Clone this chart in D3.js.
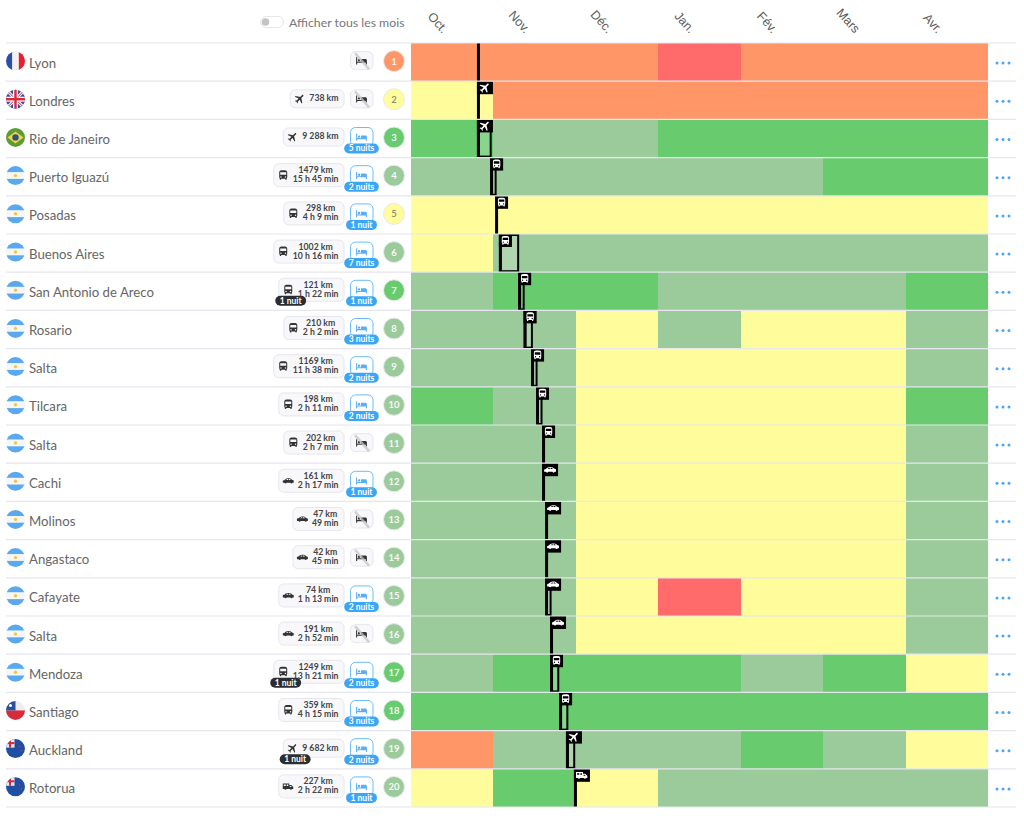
<!DOCTYPE html>
<html lang="fr">
<head>
<meta charset="UTF-8">
<title>Itinéraire</title>
<script src="https://d3js.org/d3.v7.min.js"></script>
<style>
    html, body { margin: 0; padding: 0; background: #fff; }
    svg { display: block; font-family: Lato, "Open Sans", sans-serif; }
    .axis text { font-size: 12.5px; fill: #5c5c5c; }
</style>
</head>
<body>
<svg id="chart" width="1024" height="838"></svg>
<script>
// --- data ---
var cities = ["Lyon", "Londres", "Rio de Janeiro", "Puerto Iguazú", "Posadas", "Buenos Aires", "San Antonio de Areco", "Rosario", "Salta", "Tilcara", "Salta", "Cachi", "Molinos", "Angastaco", "Cafayate", "Salta", "Mendoza", "Santiago", "Auckland", "Rotorua"];
var countries = ["fr", "uk", "br", "ar", "ar", "ar", "ar", "ar", "ar", "ar", "ar", "ar", "ar", "ar", "ar", "ar", "ar", "cl", "nz", "nz"];
var months = ["Oct.", "Nov.", "Déc.", "Jan.", "Fév.", "Mars", "Avr."];

// O orange, Y yellow, L light green, G green, R red
var monthRatings = [
    "OOOROOO",
    "YOOOOOO",
    "GLLGGGG",
    "LLLLLGG",
    "YYYYYYY",
    "YLLLLLL",
    "LGGLLLG",
    "LLYLYYL",
    "LLYYYYL",
    "GLYYYYG",
    "LLYYYYL",
    "LLYYYYL",
    "LLYYYYL",
    "LLYYYYL",
    "LLYRYYL",
    "LLYYYYL",
    "LGGGLGY",
    "GGGGGGG",
    "OLLLGLY",
    "YGYLLLL"
];
var stepRatings = ["O", "Y", "G", "L", "Y", "L", "G", "L", "L", "L", "L", "L", "L", "L", "L", "L", "G", "G", "L", "L"];
var modes = ["", "plane", "plane", "bus", "bus", "bus", "bus", "bus", "bus", "bus", "bus", "car", "car", "car", "car", "car", "bus", "bus", "plane", "camper"];
var distances = ["", "738 km", "9 288 km", "1479 km", "298 km", "1002 km", "121 km", "210 km", "1169 km", "198 km", "202 km", "161 km", "47 km", "42 km", "74 km", "191 km", "1249 km", "359 km", "9 682 km", "227 km"];
var durations = ["", "", "", "15 h 45 min", "4 h 9 min", "10 h 16 min", "1 h 22 min", "2 h 2 min", "11 h 38 min", "2 h 11 min", "2 h 7 min", "2 h 17 min", "49 min", "45 min", "1 h 13 min", "2 h 52 min", "13 h 21 min", "4 h 15 min", "", "2 h 22 min"];
var transitNights = [0, 0, 0, 0, 0, 0, 1, 0, 0, 0, 0, 0, 0, 0, 0, 0, 1, 0, 1, 0];
var nights = [0, 0, 5, 2, 1, 7, 1, 3, 2, 2, 0, 1, 0, 0, 2, 0, 2, 3, 2, 1];
// arrival, in days since the start of October
var arrivalDays = [24, 24, 24, 28.8, 30.6, 32, 39, 41, 43.7, 45.5, 47.7, 47.7, 48.8, 48.8, 48.8, 50.6, 50.6, 53.9, 56.4, 59.3];

var ratingColor = d3.scaleOrdinal()
    .domain(["O", "Y", "L", "G", "R"])
    .range(["#ff9668", "#fffd9b", "#9ccb9b", "#68cc6e", "#ff6a6a"]);

var icons = {
    bus: "M4 16c0 .88.39 1.67 1 2.22V20c0 .55.45 1 1 1h1c.55 0 1-.45 1-1v-1h8v1c0 .55.45 1 1 1h1c.55 0 1-.45 1-1v-1.78c.61-.55 1-1.34 1-2.22V6c0-3.5-3.58-4-8-4s-8 .5-8 4v10zm3.5 1c-.83 0-1.5-.67-1.5-1.5S6.67 14 7.5 14s1.5.67 1.5 1.5S8.33 17 7.5 17zm9 0c-.83 0-1.5-.67-1.5-1.5s.67-1.5 1.5-1.5 1.5.67 1.5 1.5-.67 1.5-1.5 1.5zm1.5-6H6V6h12v5z",
    plane: "M21 16v-2l-8-5V3.5c0-.83-.67-1.5-1.5-1.5S10 2.67 10 3.5V9l-8 5v2l8-2.5V19l-2 1.5V22l3.5-1 3.5 1v-1.5L13 19v-5.5l8 2.5z",
    car: "M1 15v-2.5c0-.8 1-1.5 3-1.8l3-2.400C8 7.500 9.500 7 11 7h3c1.500 0 3 .7 4.200 1.800l1.300 1.200c2 .3 3.500 1 3.500 2.500V15c0 .6-.4 1-1 1h-1.200a2.500 2.500 0 0 1-4.600 0H8.800a2.500 2.500 0 0 1-4.600 0H2c-.6 0-1-.4-1-1zM7.500 10.500h4V8.500H10zM13 10.500h4L15.500 8.500H13z",
    camper: "M1 6h13v3h4l4 4v4h-2.200a2.500 2.500 0 0 1-4.600 0H8.800a2.500 2.500 0 0 1-4.600 0H1zm2 2v3h4V8zm6 0v3h3V8zm6 3v2h4l-2-2z",
    bed: "M2 6v13h2v-3h16v3h2v-7c0-2-1-3-3-3h-8v5H4V6zm5.500 3a2.200 2.200 0 1 0 0 4.400a2.200 2.200 0 0 0 0-4.400z"
};

// --- layout ---
var svg = d3.select("#chart");
var rowScale = d3.scaleBand().domain(d3.range(cities.length)).range([43, 807]);
var monthScale = d3.scaleBand().domain(months).range([411, 988]);
var dayScale = d3.scaleLinear().domain([0, 210]).range([411, 988]);
var rowH = rowScale.bandwidth();
var dayW = dayScale(1) - dayScale(0);

// toggle + month labels
svg.append("rect").attr("x", 260.5).attr("y", 16.5).attr("width", 23).attr("height", 11).attr("rx", 5.5)
    .attr("fill", "#fff").attr("stroke", "#e6e6ea");
svg.append("circle").attr("cx", 265.5).attr("cy", 22).attr("r", 3.8).attr("fill", "#c4c4c4");
svg.append("text").attr("x", 289).attr("y", 26.5).attr("font-size", 12.3).attr("fill", "#777").text("Afficher tous les mois");

var axis = svg.append("g").attr("class", "axis").attr("transform", "translate(0,34)")
    .call(d3.axisTop(monthScale).tickSize(0));
axis.select(".domain").remove();
axis.selectAll("text")
    .attr("text-anchor", "end")
    .attr("y", 0).attr("dy", 0)
    .attr("transform", "translate(-10,0) rotate(48)");

function flag(g, code, id) {
    var cx = 15.5, cy = 18, r = 9.5;
    g.append("clipPath").attr("id", id).append("circle").attr("cx", cx).attr("cy", cy).attr("r", r);
    var f = g.append("g").attr("clip-path", "url(#" + id + ")");
    function box(x, y, w, h, c) {
        f.append("rect").attr("x", cx + x).attr("y", cy + y).attr("width", w).attr("height", h).attr("fill", c);
    }
    if (code === "fr") {
        box(-10, -10, 7, 20, "#2b4fa8"); box(-3.300, -10, 6.600, 20, "#f2f2f4"); box(3.300, -10, 7, 20, "#e8202e");
    } else if (code === "uk") {
        box(-10, -10, 20, 20, "#2f4f9e");
        [[-10, -10, 10, 10], [-10, 10, 10, -10]].forEach(function(l) {
            f.append("line").attr("x1", cx + l[0]).attr("y1", cy + l[1]).attr("x2", cx + l[2]).attr("y2", cy + l[3])
                .attr("stroke", "#f4f4f4").attr("stroke-width", 3);
            f.append("line").attr("x1", cx + l[0]).attr("y1", cy + l[1]).attr("x2", cx + l[2]).attr("y2", cy + l[3])
                .attr("stroke", "#d8283c").attr("stroke-width", 1);
        });
        box(-10, -2.500, 20, 5, "#f4f4f4"); box(-2.500, -10, 5, 20, "#f4f4f4");
        box(-10, -1.200, 20, 2.400, "#d8283c"); box(-1.200, -10, 2.400, 20, "#d8283c");
    } else if (code === "br") {
        box(-10, -10, 20, 20, "#5c9c35");
        f.append("path").attr("d", "M" + (cx - 8) + " " + cy + "L" + cx + " " + (cy - 6) + "L" + (cx + 8) + " " + cy + "L" + cx + " " + (cy + 6) + "Z").attr("fill", "#f0d53c");
        f.append("circle").attr("cx", cx).attr("cy", cy).attr("r", 3.200).attr("fill", "#2c4f8f");
    } else if (code === "ar") {
        box(-10, -10, 20, 6.700, "#5aa9ee"); box(-10, -3.300, 20, 6.600, "#f6f6f6"); box(-10, 3.300, 20, 6.700, "#5aa9ee");
        f.append("circle").attr("cx", cx).attr("cy", cy).attr("r", 1.700).attr("fill", "#f4c542");
    } else if (code === "cl") {
        box(-10, -10, 20, 10, "#eeeef0"); box(-10, 0, 20, 10, "#d92a3c"); box(-10, -10, 10, 10, "#28509e");
        f.append("circle").attr("cx", cx - 5).attr("cy", cy - 5).attr("r", 1.500).attr("fill", "#fff");
    } else {
        box(-10, -10, 20, 20, "#1f4fa5");
        box(-10, -10, 9, 9, "#e9e9f0");
        box(-10, -6.500, 9, 2, "#d8283c"); box(-6.500, -10, 2, 9, "#d8283c");
        f.append("circle").attr("cx", cx + 4).attr("cy", cy - 2).attr("r", .8).attr("fill", "#e8283c");
        f.append("circle").attr("cx", cx + 6).attr("cy", cy + 2).attr("r", .8).attr("fill", "#e8283c");
    }
}

function icon(g, name, cx, cy, size, color) {
    var t = "translate(" + (cx - size / 2) + "," + (cy - size / 2) + ") scale(" + size / 24 + ")";
    if (name === "plane") t += " rotate(45 12 12)";
    return g.append("path").attr("d", icons[name]).attr("transform", t).attr("fill", color).attr("fill-rule", "evenodd");
}

function pill(g, label, x, cy, color, anchorMiddle) {
    var t = g.append("text").attr("y", cy + 3).attr("font-size", 8.5).attr("font-weight", 700).attr("fill", "#fff").text(label);
    var w = t.node().getComputedTextLength() + 9;
    var left = anchorMiddle ? x - w / 2 : x;
    g.insert("rect", function() { return t.node(); })
        .attr("x", left).attr("y", cy - 5).attr("width", w).attr("height", 10).attr("rx", 5).attr("fill", color);
    t.attr("x", left + 4.500);
}

// --- rows ---
var rows = svg.selectAll("g.row").data(cities).join("g")
    .attr("class", "row")
    .attr("transform", function(d, i) { return "translate(0," + rowScale(i) + ")"; });

rows.each(function(city, i) {
    var g = d3.select(this);
    var mid = rowH / 2;

    // month cells
    g.selectAll("rect.cell").data(monthRatings[i].split("")).join("rect")
        .attr("class", "cell")
        .attr("x", function(d, m) { return monthScale(months[m]); })
        .attr("y", 0)
        .attr("width", monthScale.bandwidth())
        .attr("height", rowH)
        .attr("shape-rendering", "crispEdges")
        .attr("fill", function(d) { return ratingColor(d); });

    // left column
    flag(g, countries[i], "flag" + i);
    g.append("text").attr("x", 29).attr("y", mid + 5.500).attr("font-size", 13.2).attr("fill", "#666").text(city);

    // transport badge
    if (modes[i]) {
        var two = durations[i] !== "";
        var textG = g.append("g").attr("font-size", 8.7).attr("font-weight", 700).attr("fill", "#444").attr("text-anchor", "middle");
        var t1 = textG.append("text").attr("y", two ? mid - 3.500 : mid + 1).text(distances[i]);
        var tw = t1.node().getComputedTextLength();
        if (two) {
            var t2 = textG.append("text").attr("y", mid + 5.500).text(durations[i]);
            tw = Math.max(tw, t2.node().getComputedTextLength());
        }
        var left = 344 - (tw + 25);
        var bh = two ? 23 : 18;
        g.insert("rect", function() { return textG.node(); })
            .attr("x", left + .5).attr("y", mid - 1.500 - bh / 2).attr("width", 343.500 - left).attr("height", bh).attr("rx", 5)
            .attr("fill", "#f8f8fb").attr("stroke", "#e6e6ee");
        textG.selectAll("text").attr("x", 338.500 - tw / 2);
        icon(g, modes[i], left + 10, mid - 1.500, 12, "#333");
        if (transitNights[i]) {
            pill(g, transitNights[i] + " nuit", left - 3, mid + 9.500, "#2b2d33", false);
        }
    }

    // stay badge
    var stay = nights[i] > 0;
    g.append("rect").attr("x", 350.5).attr("y", stay ? mid - 11 : mid - 10.500).attr("width", 22.500).attr("height", stay ? 19 : 18).attr("rx", 5)
        .attr("fill", stay ? "#fff" : "#f8f8fb").attr("stroke", stay ? "#6bbcfb" : "#e6e6ee");
    icon(g, "bed", 361.5, mid - 1.500, 13, stay ? "#5aaef5" : "#333");
    if (stay) {
        pill(g, nights[i] + (nights[i] > 1 ? " nuits" : " nuit"), 361.5, mid + 10, "#3ba5f7", true);
    } else {
        g.append("line").attr("x1", 355).attr("y1", mid - 9).attr("x2", 369).attr("y2", mid + 7)
            .attr("stroke", "#c4c4c4").attr("stroke-width", 2.500).attr("opacity", .75);
    }

    // step number
    g.append("circle").attr("cx", 394).attr("cy", mid - 1).attr("r", 10.500)
        .attr("fill", ratingColor(stepRatings[i])).attr("stroke", "#e9e9ee").attr("stroke-width", 1);
    g.append("text").attr("x", 394).attr("y", mid + 2.500).attr("text-anchor", "middle").attr("font-size", 9.500)
        .attr("font-weight", 600).attr("fill", stepRatings[i] === "Y" ? "#8a8a70" : "#fff").text(i + 1);

    // stay box (transit nights count too), arrival bar, transport flag
    var x0 = dayScale(arrivalDays[i]);
    var total = nights[i] + transitNights[i];
    if (total > 1) {
        g.append("rect").attr("x", x0 + 1).attr("y", 1).attr("width", total * dayW - 1).attr("height", rowH - 2)
            .attr("fill", "#fff").attr("fill-opacity", .2).attr("stroke", "#000").attr("stroke-width", 2);
    }
    g.append("rect").attr("x", x0).attr("y", 0).attr("width", 3).attr("height", rowH).attr("fill", "#000");
    if (modes[i]) {
        var fw = modes[i] === "bus" ? 13 : 16;
        g.append("rect").attr("x", x0).attr("y", 0).attr("width", fw).attr("height", 13).attr("fill", "#000");
        icon(g, modes[i], x0 + fw / 2, 6.500, modes[i] === "bus" ? 11 : 13, "#fff");
    }

    // menu dots
    g.selectAll("circle.dot").data([997, 1003, 1009]).join("circle")
        .attr("class", "dot").attr("cx", function(d) { return d; }).attr("cy", mid + 1).attr("r", 1.500).attr("fill", "#4ba6f5");
});

// row separators, over the cells
svg.selectAll("line.sep").data(d3.range(cities.length + 1)).join("line")
    .attr("class", "sep")
    .attr("x1", 6).attr("x2", 1016)
    .attr("y1", function(d) { return 43 + d * rowH; })
    .attr("y2", function(d) { return 43 + d * rowH; })
    .attr("stroke", "#e6e6ee").attr("stroke-width", 1.200);
</script>
</body>
</html>
